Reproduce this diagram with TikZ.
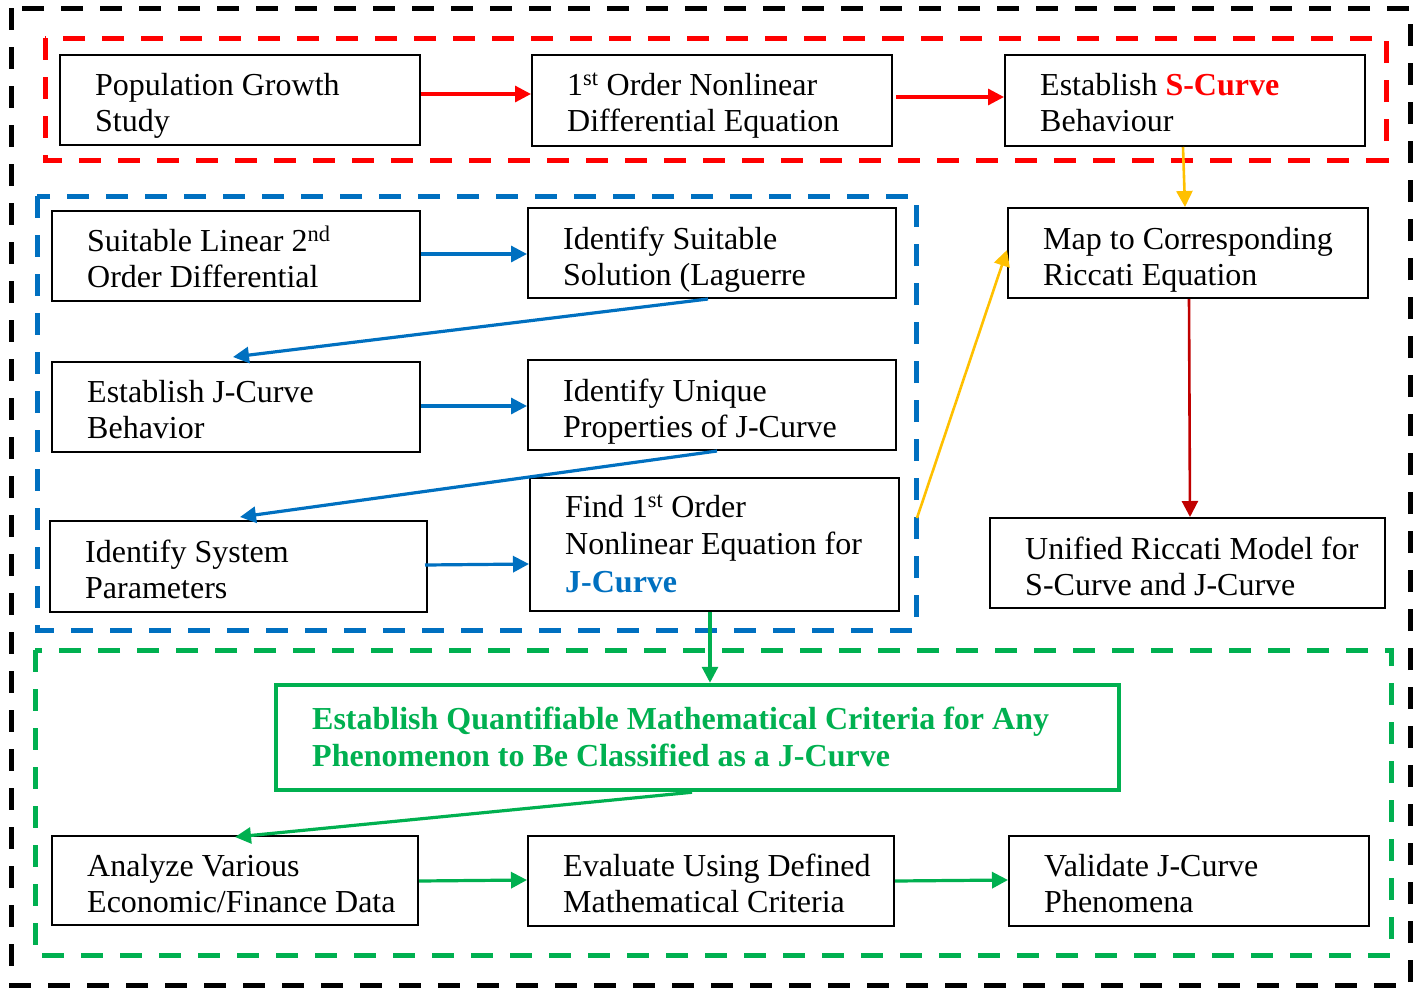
\documentclass[tikz,border=0pt]{standalone}
\usepackage{fontspec}
\setmainfont{Liberation Serif}
\usetikzlibrary{arrows.meta,fit,calc}
\definecolor{jred}{HTML}{FF0000}
\definecolor{jblue}{HTML}{0070C0}
\definecolor{jgreen}{HTML}{00B050}
\definecolor{jyellow}{HTML}{FFC000}
\definecolor{jdred}{HTML}{C00000}
\tikzset{
  box/.style={draw=black, line width=2pt, inner sep=0pt, rectangle},
  gbox/.style={draw=jgreen, line width=4.5pt, inner sep=0pt, rectangle},
  txt/.style={font=\fontsize{32}{36}\selectfont, align=left, inner sep=0pt, anchor=base west},
  cont/.style={line width=5pt, dash pattern=on 22pt off 17pt},
  arr/.style={line width=3.2pt, -{Triangle[length=16pt,width=16pt]}},
}
\begin{document}
\begin{tikzpicture}[x=1pt,y=-1pt]
\useasboundingbox (0,0) rectangle (1424,988);
% containers
\draw[cont, black] (11,8) rectangle (1410,985);
\draw[cont, jred] (45,38) rectangle (1386,160);
\draw[cont, jblue] (37,196) rectangle (916,630);
\draw[cont, jgreen] (35,650) rectangle (1391,955);
% boxes
\node[box, fit={(60,55) (420,145)}] (b1) {};
\node[box, fit={(532,55) (892,146)}] (b2) {};
\node[box, fit={(1005,55) (1365,146)}] (b3) {};
\node[box, fit={(52,211) (420,301)}] (b4) {};
\node[box, fit={(528,208) (896,298)}] (b5) {};
\node[box, fit={(1008,208) (1368,298)}] (b6) {};
\node[box, fit={(52,362) (420,452)}] (b7) {};
\node[box, fit={(528,360) (896,450)}] (b8) {};
\node[box, fit={(50,521) (427,612)}] (b9) {};
\node[box, fit={(530,478) (899,611)}] (b10) {};
\node[box, fit={(990,518) (1385,608)}] (b11) {};
\node[gbox, fit={(276,685) (1119,790)}] (b12) {};
\node[box, fit={(52,836) (418,925)}] (b13) {};
\node[box, fit={(528,836) (894,926)}] (b14) {};
\node[box, fit={(1009,836) (1369,926)}] (b15) {};
% texts (anchor = baseline of last line)
\node[txt] (t1) at (95,131) {Population Growth\\Study};
\node[txt] (t2) at (567,131) {1\textsuperscript{st} Order Nonlinear\\Differential Equation};
\node[txt] (t3) at (1040,131) {Establish {\color{jred}\bfseries S-Curve}\\Behaviour};
\node[txt] (t4) at (87,287) {Suitable Linear 2\textsuperscript{nd}\\Order Differential};
\node[txt] (t5) at (563,285) {Identify Suitable\\Solution (Laguerre};
\node[txt] (t6) at (1043,285) {Map to Corresponding\\Riccati Equation};
\node[txt] (t7) at (87,438) {Establish J-Curve\\Behavior};
\node[txt] (t8) at (563,437) {Identify Unique\\Properties of J-Curve};
\node[txt] (t9) at (85,598) {Identify System\\Parameters};
\node[txt, font=\fontsize{32}{37.5}\selectfont] (t10) at (565,592) {Find 1\textsuperscript{st} Order\\Nonlinear Equation for\\{\color{jblue}\bfseries J-Curve}};
\node[txt] (t11) at (1025,595) {Unified Riccati Model for\\S-Curve and J-Curve};
\node[txt, font=\fontsize{32}{37}\selectfont\bfseries, text=jgreen] (t12) at (312,766) {Establish Quantifiable Mathematical Criteria for Any\\Phenomenon to Be Classified as a J-Curve};
\node[txt] (t13) at (87,912) {Analyze Various\\Economic/Finance Data};
\node[txt] (t14) at (563,912) {Evaluate Using Defined\\Mathematical Criteria};
\node[txt] (t15) at (1044,912) {Validate J-Curve\\Phenomena};
% connectors
\coordinate (ye) at (917,518);
\draw[arr, jred] (b1.east |- 0,94) -- (b2.west |- 0,94);
\draw[arr, jred] ($(b2.east |- 0,97)+(3,0)$) -- (b3.west |- 0,97);
\draw[arr, jyellow, line width=2.6pt] (b3.south -| 1183,0) -- (b6.north -| 1185,0);
\draw[arr, jyellow, line width=2.6pt] (ye) -- (b6.west |- 0,250);
\draw[arr, jdred, line width=2.6pt] (b6.south -| 1189,0) -- (b11.north -| 1190,0);
\draw[arr, jblue] (b4.east |- 0,254) -- (b5.west |- 0,254);
\draw[arr, jblue] (b5.south -| 708,0) -- ($(b7.north -| 233,0)+(0,-4)$);
\draw[arr, jblue] (b7.east |- 0,406) -- (b8.west |- 0,406);
\draw[arr, jblue] (b8.south -| 717,0) -- ($(b9.north -| 240,0)+(0,-3)$);
\draw[arr, jblue] ($(b9.east |- 0,565)+(-3,0)$) -- (b10.west |- 0,564);
\draw[arr, jgreen] (b10.south -| 710,0) -- (b12.north -| 710,0);
\draw[arr, jgreen] (b12.south -| 692,0) -- ($(b13.north -| 235,0)+(0,2)$);
\draw[arr, jgreen] (b13.east |- 0,881) -- (b14.west |- 0,880);
\draw[arr, jgreen] (b14.east |- 0,881) -- (b15.west |- 0,880);
\end{tikzpicture}
\end{document}
